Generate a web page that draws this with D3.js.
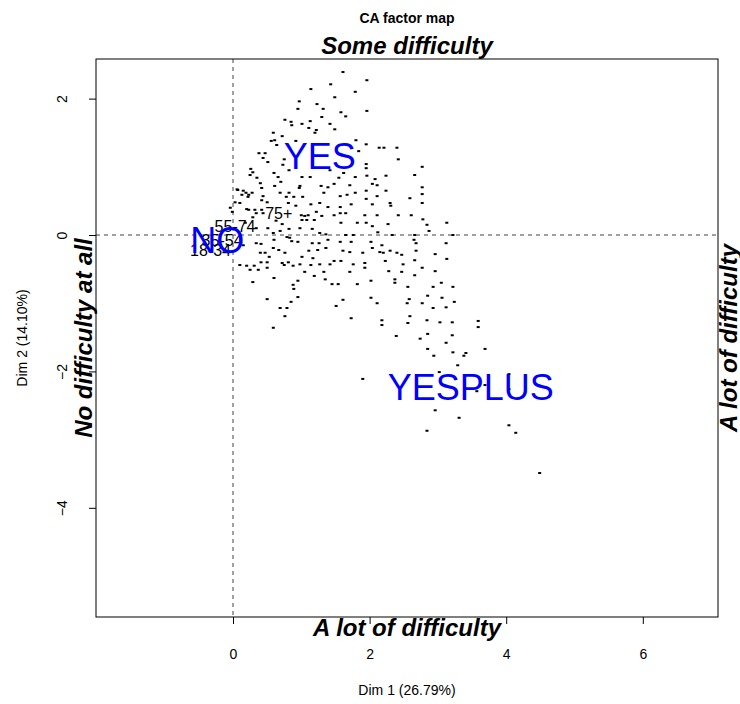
<!DOCTYPE html>
<html><head><meta charset="utf-8">
<script src="https://cdn.jsdelivr.net/npm/d3@7"></script>
<style>body{margin:0;background:#fff}svg{display:block;font-family:"Liberation Sans",Arial,sans-serif}</style>
</head><body>
<script>
// Row points (Dim 1, Dim 2)
const rowDim1 = [1.61,1.96,1.43,1.14,1.79,1.49,0.97,1.23,0.95,1.32,1.58,1.65,1.96,0.76,0.85,0.86,1.13,1.30,1.42,1.01,1.11,1.22,1.49,0.59,1.20,0.56,0.61,0.64,0.92,0.72,1.80,1.95,2.14,2.21,2.40,1.84,0.38,0.47,0.44,0.51,0.75,2.42,1.95,1.95,2.77,0.26,0.29,0.82,1.42,0.25,0.35,0.60,0.66,1.01,1.13,1.62,1.79,1.96,2.24,2.66,1.55,0.70,2.08,2.04,0.40,0.61,0.98,1.48,1.29,1.71,1.39,2.11,2.77,0.15,0.42,0.97,2.24,0.13,0.23,0.44,0.69,0.82,0.89,1.02,1.33,1.57,1.67,1.79,1.95,2.11,2.77,2.77,0.32,0.34,0.42,0.50,0.78,1.14,1.27,1.39,1.57,1.73,1.95,2.04,2.30,2.31,2.59,0.81,0.92,0.23,1.00,1.05,1.10,1.22,1.48,1.57,1.65,1.93,2.11,2.42,2.61,2.78,0.29,0.63,0.72,1.01,1.08,1.19,1.30,1.58,1.82,1.95,2.04,2.27,2.84,3.13,0.18,0.34,0.51,0.59,0.69,0.82,0.98,1.16,1.27,1.36,1.65,1.76,2.12,2.33,2.66,2.87,3.22,0.34,0.41,0.60,0.86,0.95,1.16,1.26,1.39,1.57,1.73,2.02,2.18,2.65,2.68,3.12,0.40,0.47,0.67,0.76,1.01,1.11,1.24,1.36,1.61,1.71,1.90,2.04,2.15,2.20,2.30,2.40,2.47,2.68,2.96,1.17,3.13,0.53,0.20,0.31,0.41,0.50,0.75,0.81,0.88,0.98,1.14,1.27,1.42,1.48,1.58,1.76,1.93,1.93,2.23,2.49,2.66,2.77,2.96,1.05,1.19,1.33,1.71,2.28,2.47,2.66,0.60,0.29,0.95,1.35,1.45,1.54,1.82,2.02,2.37,2.37,2.56,2.93,3.05,3.22,0.88,0.89,0.95,0.85,1.61,1.51,2.02,2.11,2.58,2.55,2.77,2.85,3.06,2.93,3.12,3.24,0.50,0.69,0.79,0.76,1.73,2.18,2.18,2.59,2.56,2.84,3.03,3.21,3.59,3.59,0.59,2.39,2.74,2.85,3.21,3.12,2.85,2.94,3.22,3.38,3.41,3.69,3.29,1.90,3.02,4.04,3.69,3.57,4.04,2.96,3.31,2.84,4.04,4.14,4.49,0.07,0.19,0.22,0.03,-0.04,-0.01,0.20,0.10,0.28,0.42,0.44,0.79,0.83,0.15,0.59,0.25,0.37,0.50,0.10,0.72,0.06,0.73];
const rowDim2 = [2.39,2.27,2.21,2.14,2.10,2.02,1.96,1.92,1.85,1.85,1.80,1.74,1.82,1.69,1.66,1.61,1.67,1.73,1.63,1.63,1.57,1.54,1.55,1.50,1.50,1.38,1.39,1.32,1.38,1.45,1.39,1.33,1.28,1.28,1.28,1.23,1.20,1.20,1.13,1.07,1.11,1.11,1.04,0.98,1.00,0.97,0.92,0.95,0.95,0.88,0.84,0.91,0.85,0.85,0.85,0.91,0.85,0.87,0.87,0.88,0.84,0.78,0.82,0.75,0.76,0.72,0.72,0.75,0.72,0.73,0.70,0.73,0.70,0.65,0.69,0.69,0.65,0.59,0.59,0.57,0.62,0.62,0.56,0.56,0.62,0.57,0.59,0.62,0.65,0.57,0.60,0.47,0.37,0.32,0.51,0.48,0.56,0.45,0.47,0.41,0.41,0.45,0.53,0.45,0.47,0.43,0.54,0.47,0.43,0.37,0.29,0.28,0.29,0.34,0.29,0.32,0.32,0.29,0.29,0.29,0.29,0.23,0.26,0.21,0.16,0.22,0.22,0.22,0.28,0.18,0.18,0.18,0.13,0.16,0.15,0.18,0.18,0.10,0.10,0.03,0.06,0.09,0.10,0.09,0.03,0.01,0.00,0.00,0.04,0.00,0.00,0.06,0.00,-0.12,-0.13,-0.07,-0.09,-0.10,-0.12,-0.12,-0.07,-0.10,-0.10,-0.10,-0.15,-0.07,-0.12,-0.12,-0.26,-0.26,-0.22,-0.26,-0.32,-0.23,-0.22,-0.19,-0.23,-0.25,-0.26,-0.19,-0.25,-0.26,-0.23,-0.26,-0.29,-0.23,-0.28,-0.34,-0.35,-0.32,-0.45,-0.45,-0.40,-0.40,-0.44,-0.40,-0.45,-0.43,-0.44,-0.43,-0.43,-0.38,-0.38,-0.43,-0.41,-0.48,-0.38,-0.43,-0.37,-0.48,-0.53,-0.54,-0.60,-0.54,-0.54,-0.53,-0.54,-0.59,-0.63,-0.69,-0.67,-0.65,-0.72,-0.72,-0.72,-0.67,-0.65,-0.70,-0.76,-0.76,-0.70,-0.76,-0.73,-0.79,-0.91,-0.98,-0.95,-1.04,-0.92,-1.00,-0.94,-1.00,-1.00,-0.89,-0.92,-1.07,-1.06,-0.98,-0.94,-1.07,-1.07,-1.19,-1.22,-1.25,-1.32,-1.19,-1.29,-1.25,-1.28,-1.28,-1.26,-1.35,-1.36,-1.48,-1.52,-1.45,-1.47,-1.58,-1.67,-1.77,-1.72,-1.77,-1.73,-1.67,-1.91,-2.11,-2.01,-2.04,-2.20,-2.29,-2.26,-2.57,-2.68,-2.87,-2.79,-2.90,-3.49,0.66,0.62,0.56,0.48,0.40,0.34,0.38,0.47,0.62,0.37,0.32,-0.03,-0.04,-0.15,-0.19,-0.51,-0.51,-0.48,-0.44,-0.41,0.67,1.03];

// Column points (blue) and supplementary labels (black)
const colLabels = ["NO","YES","YESPLUS"];
const colDim1 = [-0.23, 1.27, 3.48];
const colDim2 = [-0.08, 1.16, -2.23];
const supLabels = ["18-34","35-54","55-74","75+"];
const supDim1 = [-0.33, -0.16, 0.03, 0.67];
const supDim2 = [-0.22, -0.08, 0.13, 0.32];

const xTicks = [0,2,4,6];
const yTicks = [-4,-2,0,2];
const titleText = "CA factor map";
const xLabel = "Dim 1 (26.79%)";
const yLabel = "Dim 2 (14.10%)";
const sideTop = "Some difficulty", sideBottom = "A lot of difficulty", sideLeft = "No difficulty at all", sideRight = "A lot of difficulty";

const W = 740, H = 704;
const L = 96, R = 718, T = 59, B = 617;
const svg = d3.select("body").append("svg").attr("width", W).attr("height", H);
const x = d3.scaleLinear().domain([-2.006, 7.101]).range([L, R]);
const y = d3.scaleLinear().domain([-5.601, 2.581]).range([B, T]);

// axes
const gx = svg.append("g").attr("transform", `translate(0,${B})`)
  .call(d3.axisBottom(x).tickValues(xTicks).tickSize(7).tickPadding(25).tickFormat(d3.format("d")));
gx.select(".domain").remove();
gx.selectAll("line").attr("stroke", "#000");
gx.selectAll("text").attr("font-size", 14).attr("fill", "#000").attr("font-family", "Liberation Sans, Arial, sans-serif");

const gy = svg.append("g").attr("transform", `translate(${L},0)`)
  .call(d3.axisLeft(y).tickValues(yTicks).tickSize(7).tickFormat(d => d < 0 ? "\u2212" + Math.abs(d) : d));
gy.select(".domain").remove();
gy.selectAll("line").attr("stroke", "#000");
gy.selectAll("text").attr("font-size", 14).attr("fill", "#000").attr("font-family", "Liberation Sans, Arial, sans-serif")
  .attr("text-anchor", "middle").attr("x", null).attr("dy", null)
  .attr("transform", "translate(-29,0) rotate(-90)");

// reference lines
svg.append("line").attr("x1", x(0)).attr("x2", x(0)).attr("y1", T).attr("y2", B)
  .attr("stroke", "#444").attr("stroke-dasharray", "4,4");
svg.append("line").attr("x1", L).attr("x2", R).attr("y1", y(0)).attr("y2", y(0))
  .attr("stroke", "#444").attr("stroke-dasharray", "4,4");

// points
svg.append("g").selectAll("rect").data(d3.range(rowDim1.length)).join("rect")
  .attr("x", i => x(rowDim1[i]) - 1.5).attr("y", i => y(rowDim2[i]) - 1)
  .attr("width", 3).attr("height", 2).attr("fill", "#000");

// supplementary labels
svg.append("g").selectAll("text").data(supLabels).join("text")
  .attr("x", (d, i) => x(supDim1[i])).attr("y", (d, i) => y(supDim2[i]))
  .attr("dy", "0.35em").attr("text-anchor", "middle").attr("font-size", 16).attr("fill", "#000").text(d => d);

// column labels
svg.append("g").selectAll("text").data(colLabels).join("text")
  .attr("x", (d, i) => x(colDim1[i])).attr("y", (d, i) => y(colDim2[i]))
  .attr("dy", "0.35em").attr("text-anchor", "middle").attr("font-size", 36).attr("fill", "#0000FF").text(d => d);

// box
svg.append("rect").attr("x", L).attr("y", T).attr("width", R - L).attr("height", B - T)
  .attr("fill", "none").attr("stroke", "#000");

const cx = (L + R) / 2, cy = (T + B) / 2;
svg.append("text").attr("x", cx).attr("y", 23).attr("text-anchor", "middle")
  .attr("font-size", 14).attr("font-weight", "bold").text(titleText);
svg.append("text").attr("x", cx).attr("y", 695).attr("text-anchor", "middle").attr("font-size", 14).text(xLabel);
svg.append("text").attr("transform", `translate(27,${cy}) rotate(-90)`).attr("text-anchor", "middle").attr("font-size", 14).text(yLabel);

const side = (t, tr) => svg.append("text").attr("transform", tr).attr("text-anchor", "middle")
  .attr("font-size", 24).attr("font-weight", "bold").attr("font-style", "italic").text(t);
side(sideTop, `translate(${cx},54)`);
side(sideBottom, `translate(${cx},636)`);
side(sideLeft, `translate(92,${cy}) rotate(-90)`);
side(sideRight, `translate(737,${cy}) rotate(-90)`);
</script>
</body></html>
